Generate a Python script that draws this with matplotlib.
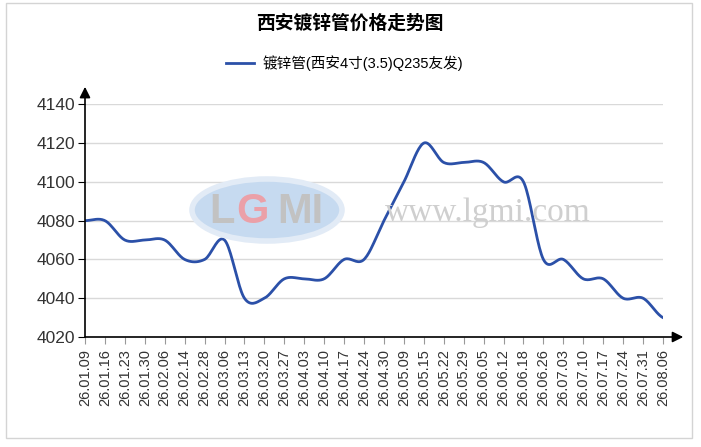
import numpy as np
import matplotlib.pyplot as plt
from matplotlib.patches import Rectangle, Ellipse

plt.rcParams['font.family'] = ['Liberation Sans', 'Noto Sans CJK SC']

title = '西安镀锌管价格走势图'
series_name = '镀锌管(西安4寸(3.5)Q235友发)'

dates = ['26.01.09', '26.01.16', '26.01.23', '26.01.30', '26.02.06', '26.02.14',
         '26.02.28', '26.03.06', '26.03.13', '26.03.20', '26.03.27', '26.04.03',
         '26.04.10', '26.04.17', '26.04.24', '26.04.30', '26.05.09', '26.05.15',
         '26.05.22', '26.05.29', '26.06.05', '26.06.12', '26.06.18', '26.06.26',
         '26.07.03', '26.07.10', '26.07.17', '26.07.24', '26.07.31', '26.08.06']
prices = [4080, 4080, 4070, 4070, 4070, 4060, 4060, 4070, 4040, 4040,
          4050, 4050, 4050, 4060, 4060, 4080, 4100, 4120, 4110, 4110,
          4110, 4100, 4100, 4060, 4060, 4050, 4050, 4040, 4040, 4030]
yticks = [4020, 4040, 4060, 4080, 4100, 4120, 4140]


def catmull_rom(y, steps=20):
    # smooth curve through the points (like the web chart does)
    p = np.concatenate([[y[0]], y, [y[-1]]]).astype(float)
    xs, ys = [], []
    for i in range(len(y) - 1):
        p0, p1, p2, p3 = p[i], p[i + 1], p[i + 2], p[i + 3]
        m1 = (p2 - p0) / 2
        m2 = (p3 - p1) / 2
        t = np.linspace(0, 1, steps, endpoint=(i == len(y) - 2))
        h00 = 2 * t**3 - 3 * t**2 + 1
        h10 = t**3 - 2 * t**2 + t
        h01 = -2 * t**3 + 3 * t**2
        h11 = t**3 - t**2
        xs.append(i + t)
        ys.append(h00 * p1 + h10 * m1 + h01 * p2 + h11 * m2)
    return np.concatenate(xs), np.concatenate(ys)


W, H = 701, 447
fig = plt.figure(figsize=(W / 100, H / 100), dpi=100)
ax = fig.add_axes([85 / W, (H - 337) / H, (663 - 85) / W, (337 - 104.3) / H])

# outer frame
fig.patches.append(Rectangle((6 / W, (H - 438) / H), 686 / W, 435 / H,
                             transform=fig.transFigure, fill=False,
                             edgecolor='#d4d4d4', lw=1))

# watermark
fig.patches.append(Ellipse((267 / W, (H - 210) / H), 150 / W, 62 / H,
                           transform=fig.transFigure, facecolor='#c6daf0',
                           edgecolor='#e2ebf6', lw=4, zorder=0))
fig.text(222 / W, (H - 212) / H, 'L', fontsize=30, color='#c2c2c2',
         fontweight='bold', ha='center', va='center')
fig.text(252 / W, (H - 212) / H, 'G', fontsize=30, color='#eba0a8',
         fontweight='bold', ha='center', va='center')
fig.text(300 / W, (H - 212) / H, 'MI', fontsize=30, color='#c2c2c2',
         fontweight='bold', ha='center', va='center')
fig.text(488 / W, (H - 213) / H, 'www.lgmi.com', fontsize=24, color='#cfcfcf',
         family='Liberation Serif', ha='center', va='center')

x = np.arange(len(prices))
sx, sy = catmull_rom(prices)
ax.plot(sx, sy, color='#2b50a8', lw=2.0, label=series_name, zorder=3)

ax.set_xlim(0, len(prices) - 1)
ax.set_ylim(yticks[0], yticks[-1])
ax.set_yticks(yticks)
ax.set_xticks(x)
ax.set_xticklabels(dates, rotation=90, fontsize=10.5, color='#333333')
ax.tick_params(axis='y', labelsize=12.5, length=5, color='black',
               labelcolor='#333333', pad=2)
ax.tick_params(axis='x', length=5, color='#999999', pad=4)
ax.patch.set_alpha(0)
for s in ax.spines.values():
    s.set_visible(False)
ax.grid(axis='y', color='#d9d9d9', lw=1)
ax.set_axisbelow(True)

# axis arrows
ax.annotate('', xy=(1.035, 0), xytext=(0, 0), xycoords='axes fraction',
            arrowprops=dict(arrowstyle='-|>', color='black', lw=1.2,
                            mutation_scale=16, shrinkA=0, shrinkB=0))
ax.annotate('', xy=(0, 1.075), xytext=(0, 0), xycoords='axes fraction',
            arrowprops=dict(arrowstyle='-|>', color='black', lw=1.2,
                            mutation_scale=16, shrinkA=0, shrinkB=0))

fig.text(350 / W, (H - 24) / H, title, fontsize=13.5, fontweight='bold',
         ha='center', va='center')
ax.legend(loc='center', bbox_to_anchor=(345 / W, (H - 63) / H),
          bbox_transform=fig.transFigure, frameon=False, fontsize=10.5,
          handlelength=1.9, handletextpad=0.6)

fig.savefig('out.png', dpi=100)
